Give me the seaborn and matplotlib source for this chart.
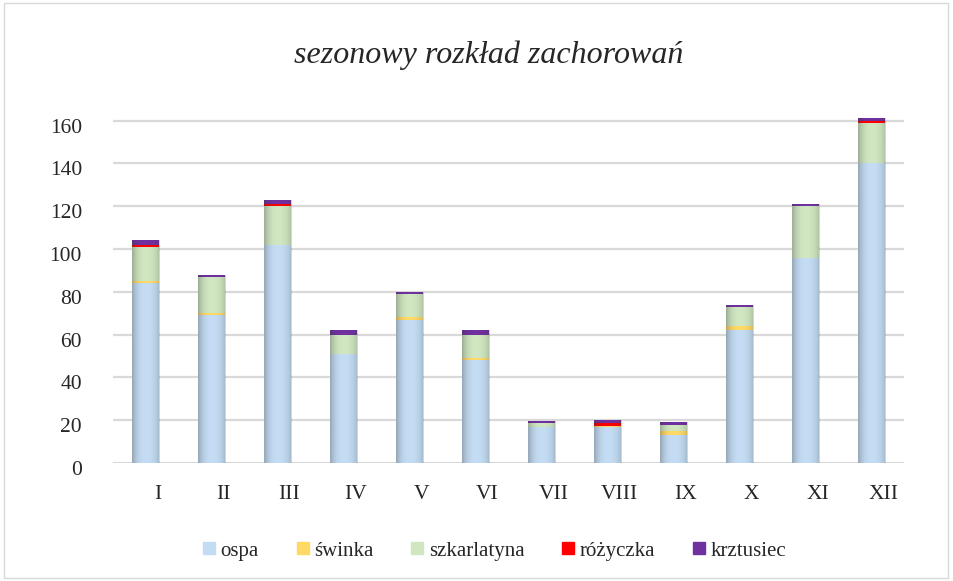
import seaborn as sns
import matplotlib.pyplot as plt
import numpy as np
import pandas as pd
from matplotlib.patches import Rectangle
from matplotlib.lines import Line2D
import matplotlib.transforms as mtransforms

months = ['I', 'II', 'III', 'IV', 'V', 'VI', 'VII', 'VIII', 'IX', 'X', 'XI', 'XII']
ospa = [84, 69, 102, 51, 67, 48, 17, 17, 13, 62, 96, 140]
swinka = [1, 1, 0, 0, 1, 1, 0, 0.5, 2, 2, 0, 0]
szkarlatyna = [16, 17, 18, 9, 11, 11, 1.5, 0, 3, 9, 24, 19]
rozyczka = [1, 0, 1, 0, 0, 0, 0, 1, 0, 0, 0, 1]
krztusiec = [2, 1, 2, 2, 1, 2, 1, 1.5, 1, 1, 1, 1]

series = ['ospa', 'świnka', 'szkarlatyna', 'różyczka', 'krztusiec']
colors = ['#c3dcf3', '#ffd966', '#cfe6c0', '#ff0000', '#7030a0']


def shade_bars(ax, patches):
    '''Cylinder-like shading on the full-height bars: darker edges, light centre'''
    xs = np.linspace(-1, 1, 64)
    alpha = np.where(xs < 0, 0.32, 0.22) * np.abs(xs) ** 2.5
    grad = np.zeros((1, 64, 4))
    grad[0, :, 0:3] = 0.2
    grad[0, :, 3] = alpha
    for p in patches:
        x0, y0 = p.get_x(), p.get_y()
        w, h = p.get_width(), p.get_height()
        im = ax.imshow(grad, extent=(x0, x0 + w, y0, y0 + h), aspect='auto',
                       interpolation='bilinear', zorder=5)
        im.set_clip_path(p)


def generate_plot(df):
    '''Stacked bars: draw cumulative totals from the top layer down'''
    sns.set_theme(style='white')
    plt.rcParams['font.family'] = ['Liberation Serif', 'DejaVu Serif']

    fig = plt.figure(figsize=(9.54, 5.81), dpi=100)
    ax = fig.add_axes([0.118, 0.203, 0.830, 0.608])

    cum = df[series].cumsum(axis=1)
    for name, color in reversed(list(zip(series, colors))):
        sns.barplot(x=df['month'], y=cum[name], color=color, width=0.42,
                    edgecolor='none', linewidth=0, saturation=1, ax=ax)
    # first layer drawn = totals, one shading per column
    shade_bars(ax, list(ax.patches[:len(months)]))

    ax.set_ylim(0, 165)
    ax.set_xlim(-0.5, 11.5)
    ax.set_yticks(range(0, 161, 20))
    ax.yaxis.grid(True, color='#d9d9d9', linewidth=1.6)
    ax.set_axisbelow(True)
    for s in ax.spines.values():
        s.set_visible(False)
    ax.set_xlabel('')
    ax.set_ylabel('')
    ax.tick_params(axis='y', labelsize=15.5, pad=22, length=0)
    ax.tick_params(axis='x', labelsize=15.5, pad=16, length=0)
    xoff = mtransforms.ScaledTranslation(12 / 100, 0, fig.dpi_scale_trans)
    for lbl in ax.get_xticklabels():
        lbl.set_transform(lbl.get_transform() + xoff)
    yoff = mtransforms.ScaledTranslation(0, -5 / 100, fig.dpi_scale_trans)
    for lbl in ax.get_yticklabels():
        lbl.set_transform(lbl.get_transform() + yoff)

    fig.text(0.512, 0.905, 'sezonowy rozkład zachorowań', ha='center', va='center',
             fontsize=23, style='italic')

    handles = [Line2D([], [], marker='s', linestyle='', markersize=9,
                      markerfacecolor=c, markeredgecolor=c) for c in colors]
    fig.legend(handles, series, loc='center', bbox_to_anchor=(0.516, 0.052), ncol=5,
               frameon=False, fontsize=15, handletextpad=0.05, handlelength=1.0,
               columnspacing=1.6)

    fig.patches.append(Rectangle((0.004, 0.006), 0.99, 0.988, transform=fig.transFigure,
                                 fill=False, edgecolor='#d9d9d9', linewidth=1))
    fig.savefig('out.png', dpi=100)


def main():
    df = pd.DataFrame({'month': months, 'ospa': ospa, 'świnka': swinka,
                       'szkarlatyna': szkarlatyna, 'różyczka': rozyczka,
                       'krztusiec': krztusiec})
    generate_plot(df)


if __name__ == '__main__':
    main()
